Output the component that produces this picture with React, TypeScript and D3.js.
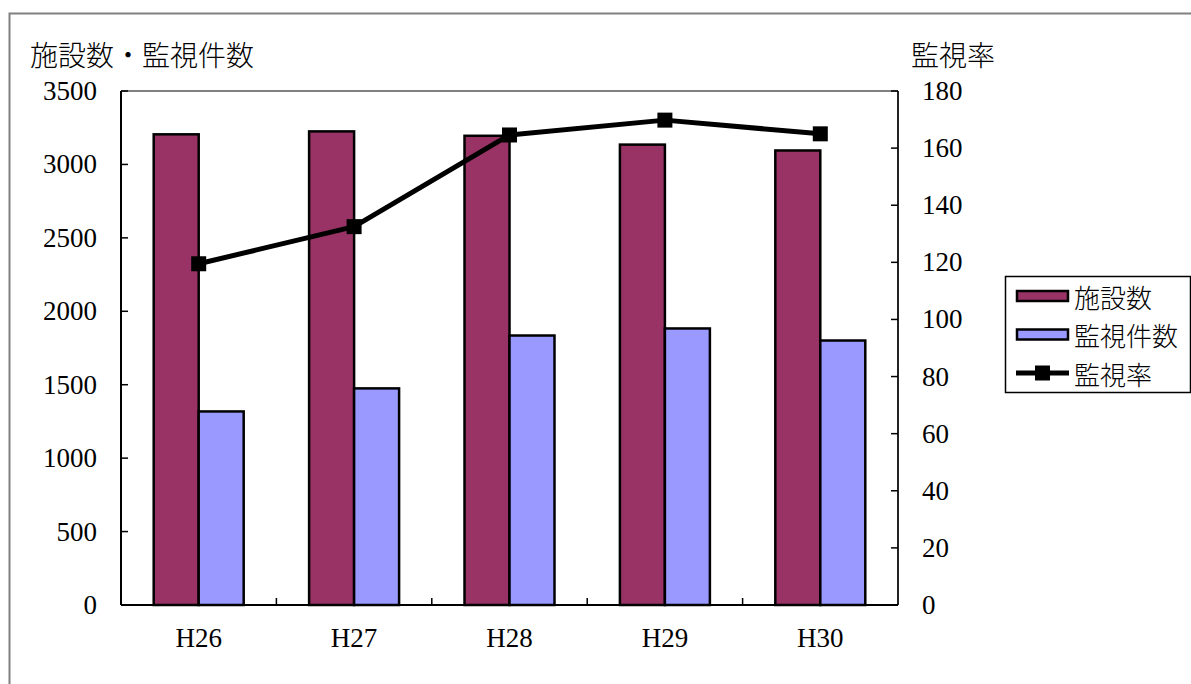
import React from "react";
import * as d3 from "d3";

const categories = ["H26", "H27", "H28", "H29", "H30"];
const facilities = [3205, 3225, 3195, 3135, 3095];
const monitored = [1318, 1475, 1835, 1883, 1801];
const rate = [119.5, 132.5, 164.6, 169.8, 165.0];
const leftTicks = [0, 500, 1000, 1500, 2000, 2500, 3000, 3500];
const rightTicks = [0, 20, 40, 60, 80, 100, 120, 140, 160, 180];

const W = 1191;
const H = 684;
const margin = { top: 91, right: 293, bottom: 79, left: 121 };

const numFont = "'Liberation Serif', 'DejaVu Serif', serif";
const jpFont = "'Noto Sans CJK JP', 'Noto Sans', sans-serif";

const App: React.FC = () => {
  const x0 = d3
    .scaleBand<string>()
    .domain(categories)
    .range([margin.left, W - margin.right])
    .padding(0);

  const series = ["施設数", "監視件数"];
  const x1 = d3
    .scaleBand<string>()
    .domain(series)
    .range([0, x0.bandwidth()])
    .paddingInner(0)
    .paddingOuter(0.727);

  const yL = d3.scaleLinear().domain([0, 3500]).range([H - margin.bottom, margin.top]);
  const yR = d3.scaleLinear().domain([0, 180]).range([H - margin.bottom, margin.top]);

  const cx = (c: string) => (x0(c) as number) + x0.bandwidth() / 2;

  const line = d3
    .line<number>()
    .x((_, i) => cx(categories[i]))
    .y((d) => yR(d));

  const left = margin.left;
  const right = W - margin.right;
  const top = margin.top;
  const bottom = H - margin.bottom;

  const colors = ["#993366", "#9999FF"];
  const values = [facilities, monitored];

  // legend rows
  const legendRows = [
    { label: "施設数", kind: "bar", color: colors[0] },
    { label: "監視件数", kind: "bar", color: colors[1] },
    { label: "監視率", kind: "line", color: "#000" },
  ];

  return (
    <svg
      width={W}
      height={H}
      viewBox={`0 0 ${W} ${H}`}
      style={{ position: "absolute", left: 0, top: 0, background: "#fff" }}
    >
      {/* outer frame */}
      <path d={`M9.5,${H + 5} V13.5 H${W + 5}`} fill="none" stroke="#808080" strokeWidth={2} />

      {/* plot frame */}
      <path d={`M${left},${top} H${right}`} stroke="#808080" strokeWidth={2} fill="none" />

      {/* bars */}
      {values.map((vals, si) =>
        vals.map((v, i) => (
          <rect
            key={`${si}-${i}`}
            x={(x0(categories[i]) as number) + (x1(series[si]) as number)}
            y={yL(v)}
            width={x1.bandwidth()}
            height={bottom - yL(v)}
            fill={colors[si]}
            stroke="#000"
            strokeWidth={2.5}
          />
        ))
      )}

      {/* axes lines */}
      <line x1={left} x2={left} y1={top} y2={bottom} stroke="#000" strokeWidth={2} />
      <line x1={right} x2={right} y1={top} y2={bottom} stroke="#222" strokeWidth={2} />
      <line x1={left} x2={right} y1={bottom} y2={bottom} stroke="#000" strokeWidth={2} />

      {/* left ticks */}
      {leftTicks.map((t) => (
        <g key={`l${t}`}>
          <line x1={left} x2={left + 7} y1={yL(t)} y2={yL(t)} stroke="#000" strokeWidth={1.5} />
          <text
            x={97}
            y={yL(t)}
            textAnchor="end"
            dominantBaseline="central"
            fontFamily={numFont}
            fontSize={27}
            fill="#000"
          >
            {t}
          </text>
        </g>
      ))}

      {/* right ticks */}
      {rightTicks.map((t) => (
        <g key={`r${t}`}>
          <line x1={right - 7} x2={right} y1={yR(t)} y2={yR(t)} stroke="#000" strokeWidth={1.5} />
          <text
            x={922}
            y={yR(t)}
            textAnchor="start"
            dominantBaseline="central"
            fontFamily={numFont}
            fontSize={27}
            fill="#000"
          >
            {t}
          </text>
        </g>
      ))}

      {/* x ticks between categories */}
      {categories.slice(1).map((c) => (
        <line
          key={`xt${c}`}
          x1={x0(c) as number}
          x2={x0(c) as number}
          y1={bottom}
          y2={bottom - 7}
          stroke="#000"
          strokeWidth={1.5}
        />
      ))}

      {/* x labels */}
      {categories.map((c) => (
        <text
          key={`xl${c}`}
          x={cx(c)}
          y={638}
          textAnchor="middle"
          dominantBaseline="central"
          fontFamily={numFont}
          fontSize={27}
          fill="#000"
        >
          {c}
        </text>
      ))}

      {/* rate line */}
      <path d={line(rate) || ""} fill="none" stroke="#000" strokeWidth={5} strokeLinejoin="round" />
      {rate.map((r, i) => (
        <rect
          key={`m${i}`}
          x={cx(categories[i]) - 7.5}
          y={yR(r) - 7.5}
          width={15}
          height={15}
          fill="#000"
        />
      ))}

      {/* axis titles */}
      <text x={30} y={54} dominantBaseline="central" fontFamily={jpFont} fontWeight={300} fontSize={28} fill="#000">
        施設数・監視件数
      </text>
      <text x={911} y={54} dominantBaseline="central" fontFamily={jpFont} fontWeight={300} fontSize={28} fill="#000">
        監視率
      </text>

      {/* legend */}
      <rect x={1005.5} y={276.5} width={185} height={116} fill="#fff" stroke="#000" strokeWidth={1.5} />
      {legendRows.map((row, i) => {
        const yc = 296 + i * 38.5;
        return (
          <g key={row.label}>
            {row.kind === "bar" ? (
              <rect
                x={1017}
                y={yc - 5}
                width={51}
                height={10}
                fill={row.color}
                stroke="#000"
                strokeWidth={2.5}
              />
            ) : (
              <g>
                <line x1={1016} x2={1069} y1={yc} y2={yc} stroke="#000" strokeWidth={5} />
                <rect x={1035} y={yc - 7.5} width={15} height={15} fill="#000" />
              </g>
            )}
            <text
              x={1074}
              y={yc}
              dominantBaseline="central"
              fontFamily={jpFont}
              fontWeight={300}
              fontSize={26}
              fill="#000"
            >
              {row.label}
            </text>
          </g>
        );
      })}
    </svg>
  );
};

export default App;
